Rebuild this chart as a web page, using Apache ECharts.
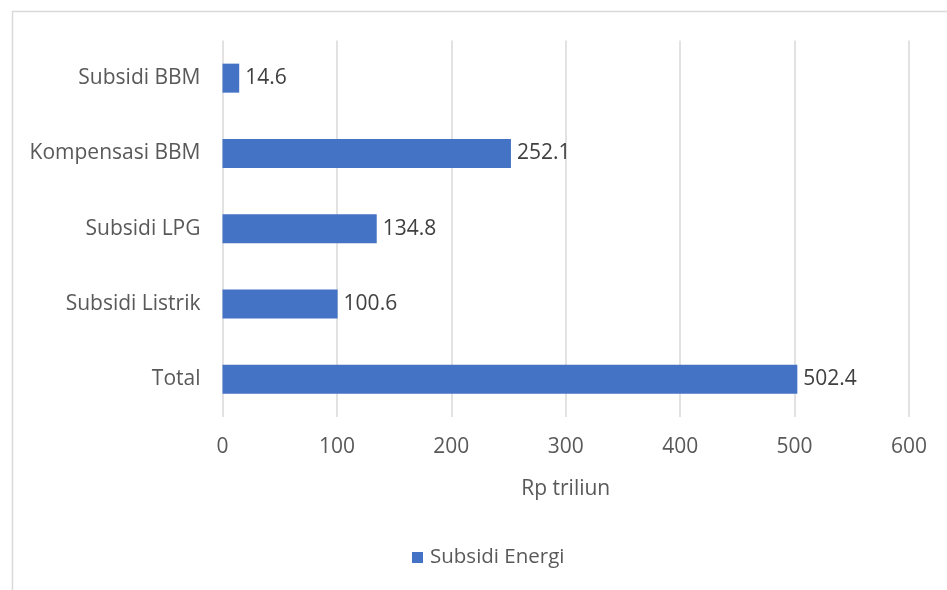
<!DOCTYPE html>
<html><head><meta charset="utf-8">
<script src="https://cdn.jsdelivr.net/npm/echarts@6/dist/echarts.min.js"></script>
<style>html,body{margin:0;padding:0;background:#fff}#c{width:947px;height:590px}</style>
</head><body><div id="c"></div>
<script>
const categories = ["Subsidi BBM", "Kompensasi BBM", "Subsidi LPG", "Subsidi Listrik", "Total"];
const values = [14.6, 252.1, 134.8, 100.6, 502.4];
const seriesName = "Subsidi Energi";
const axisTitle = "Rp triliun";

const FONT = "Open Sans";
const FS = 21;
const chart = echarts.init(document.getElementById('c'), null, {renderer: 'canvas'});
chart.setOption({
  animation: false,
  backgroundColor: '#fff',
  textStyle: {fontFamily: FONT},
  graphic: [{type: 'rect', shape: {x: 12.5, y: 11.5, width: 1200, height: 1200},
    style: {fill: 'none', stroke: '#d9d9d9', lineWidth: 1.5}, silent: true}],
  grid: {left: 222.5, right: 38, top: 40.5, bottom: 173, containLabel: false},
  legend: {data: [seriesName], bottom: 17, left: 407, itemWidth: 11, itemHeight: 11,
    icon: 'rect', textStyle: {color: '#595959', fontSize: 20.5, fontFamily: FONT, padding: [0, 0, 0, 2]}},
  xAxis: {type: 'value', min: 0, max: 600, interval: 100,
    name: axisTitle, nameLocation: 'middle', nameGap: 62,
    nameTextStyle: {color: '#595959', fontSize: FS, fontFamily: FONT},
    axisLine: {show: false}, axisTick: {show: false},
    axisLabel: {color: '#595959', fontSize: FS, margin: 20, fontFamily: FONT},
    splitLine: {lineStyle: {color: '#d9d9d9', width: 1.5}}},
  yAxis: {type: 'category', data: categories, inverse: true,
    axisLine: {show: false}, axisTick: {show: false},
    axisLabel: {color: '#595959', fontSize: FS, margin: 22, fontFamily: FONT}},
  series: [{name: seriesName, type: 'bar', data: values, barWidth: 29,
    itemStyle: {color: '#4472C4'},
    label: {show: true, position: 'right', distance: 6, color: '#404040', fontSize: FS, fontFamily: FONT,
      formatter: p => p.value.toFixed(1)}}]
});
</script></body></html>
